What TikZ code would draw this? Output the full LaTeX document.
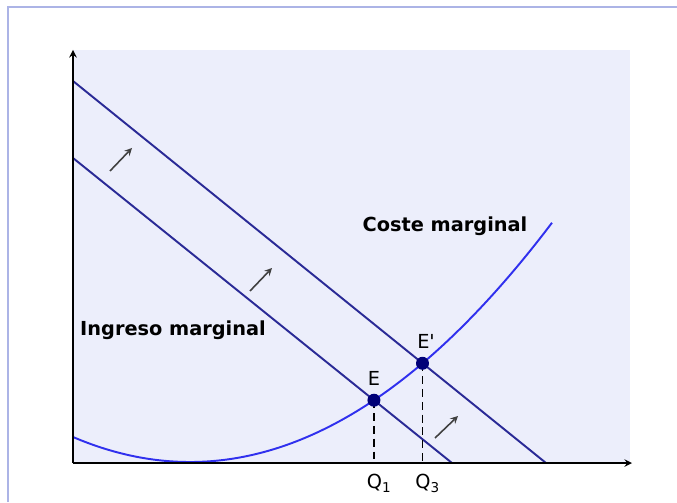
\documentclass[tikz,border=0pt]{standalone}
\usepackage{fontspec}
\setmainfont{DejaVu Sans}
\usetikzlibrary{intersections}
\definecolor{fondo}{RGB}{236,238,251}
\definecolor{marco}{RGB}{172,180,230}
\definecolor{imazul}{RGB}{42,42,150}
\definecolor{cmazul}{RGB}{48,48,238}
\definecolor{punto}{RGB}{0,0,120}
\tikzset{
  ingreso/.style={imazul, line width=1.1pt},
  coste/.style={cmazul, line width=1.1pt},
  guia/.style={line width=0.75pt, dash pattern=on 4.5pt off 2.8pt},
  flecha/.style={->, black!75, line width=0.9pt},
  rotulo/.style={font=\bfseries\fontsize{11}{13}\selectfont}
}
\begin{document}
\begin{tikzpicture}[>=stealth, font=\fontsize{11}{13}\selectfont]
    \useasboundingbox (-1.46,-0.78) rectangle (12.08,9.26);
    \draw[marco, line width=1.2pt](-1.3,-0.78)--(-1.3,9.12)--(12.08,9.12);
    \fill[fondo](0,0) rectangle (11.14,8.26);
    \coordinate (O) at (0,0);
    % curvas de ingreso y coste marginal
    \draw[ingreso, name path=im1](0,6.1)--(7.58,0);
    \draw[ingreso, name path=im2](0,7.64)--(9.46,0);
    \draw[coste, name path=cm, domain=0:9.58, smooth, samples=60]plot(\x, {0.02+0.0913*(\x-2.34)^2});
    \draw[->, line width=0.9pt](O)--(11.18,0);
    \draw[->, line width=0.9pt](O)--(0,8.26);
    \path[name intersections={of=im1 and cm, by=e}];
    \path[name intersections={of=im2 and cm, by=ep}];
    \draw[guia](e)--(e |- O);
    \draw[guia](ep)--(ep |- O);
    \fill[punto](e) circle (0.13);
    \fill[punto](ep) circle (0.13);
    \node[above=5pt] (le) at (e) {E};
    \node[above=5pt, xshift=2pt] (lep) at (ep) {E\textquotesingle};
    \node[below=3pt, xshift=3pt] (q1) at (e |- O) {Q\textsubscript{1}};
    \node[below=3pt, xshift=3pt] (q3) at (ep |- O) {Q\textsubscript{3}};
    \node[rotulo] (im) at (2.0,2.66) {Ingreso marginal};
    \node[rotulo] (cmg) at (7.44,4.74) {Coste marginal};
    % desplazamiento
    \draw[flecha](0.74,5.84)--(1.18,6.30);
    \draw[flecha](3.54,3.44)--(3.98,3.90);
    \draw[flecha](7.24,0.50)--(7.70,0.94);
\end{tikzpicture}
\end{document}
